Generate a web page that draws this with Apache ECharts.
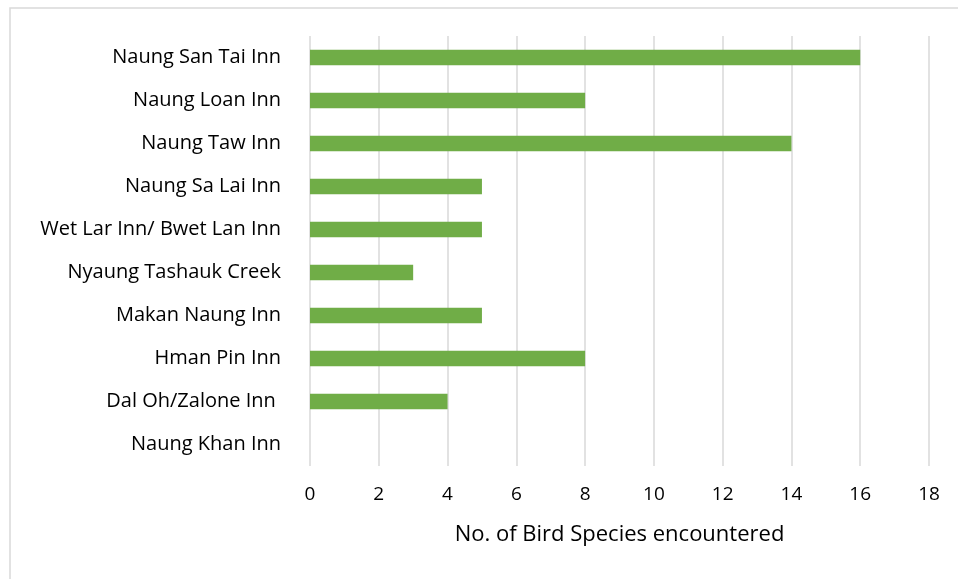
<!DOCTYPE html>
<html>
<head>
<meta charset="utf-8">
<script src="https://cdn.jsdelivr.net/npm/echarts@6/dist/echarts.min.js"></script>
<style>
  html, body { margin: 0; padding: 0; background: #fff; }
  #chart { width: 958px; height: 579px; }
</style>
</head>
<body>
<div id="chart"></div>
<script>
  // sites listed bottom to top (category axis starts at the bottom)
  const sites = [
    'Naung Khan Inn',
    'Dal Oh/Zalone Inn ',
    'Hman Pin Inn',
    'Makan Naung Inn',
    'Nyaung Tashauk Creek',
    'Wet Lar Inn/ Bwet Lan Inn',
    'Naung Sa Lai Inn',
    'Naung Taw Inn',
    'Naung Loan Inn',
    'Naung San Tai Inn'
  ]
  const speciesCount = [0, 4, 8, 5, 3, 5, 5, 14, 8, 16]
  const xTicks = [0, 18, 2]  // min, max, interval

  const font = 'Open Sans, Noto Sans, sans-serif'
  const chart = echarts.init(document.getElementById('chart'))
  const option = {
    animation: false,
    backgroundColor: '#fff',
    graphic: [{
      type: 'rect',
      shape: { x: 10, y: 8, width: 960, height: 590 },
      style: { fill: 'none', stroke: '#d9d9d9', lineWidth: 1.5 },
      silent: true
    }],
    grid: {
      left: 310,
      right: 29,
      top: 36,
      bottom: 113
    },
    xAxis: {
      type: 'value',
      min: xTicks[0],
      max: xTicks[1],
      interval: xTicks[2],
      name: 'No. of Bird Species encountered',
      nameLocation: 'middle',
      nameGap: 58,
      nameTextStyle: { fontSize: 22, color: '#000', fontFamily: font },
      axisLine: { show: false },
      axisTick: { show: false },
      axisLabel: { fontSize: 19, color: '#000', margin: 19, fontFamily: font },
      splitLine: { lineStyle: { color: '#d9d9d9', width: 1.5 } }
    },
    yAxis: {
      type: 'category',
      data: sites,
      axisLine: { show: false },
      axisTick: { show: false },
      axisLabel: { fontSize: 20, color: '#000', margin: 29, fontFamily: font }
    },
    series: [{
      type: 'bar',
      data: speciesCount,
      barWidth: '36%',
      itemStyle: { color: '#70ad47' }
    }]
  }
  chart.setOption(option)
</script>
</body>
</html>
